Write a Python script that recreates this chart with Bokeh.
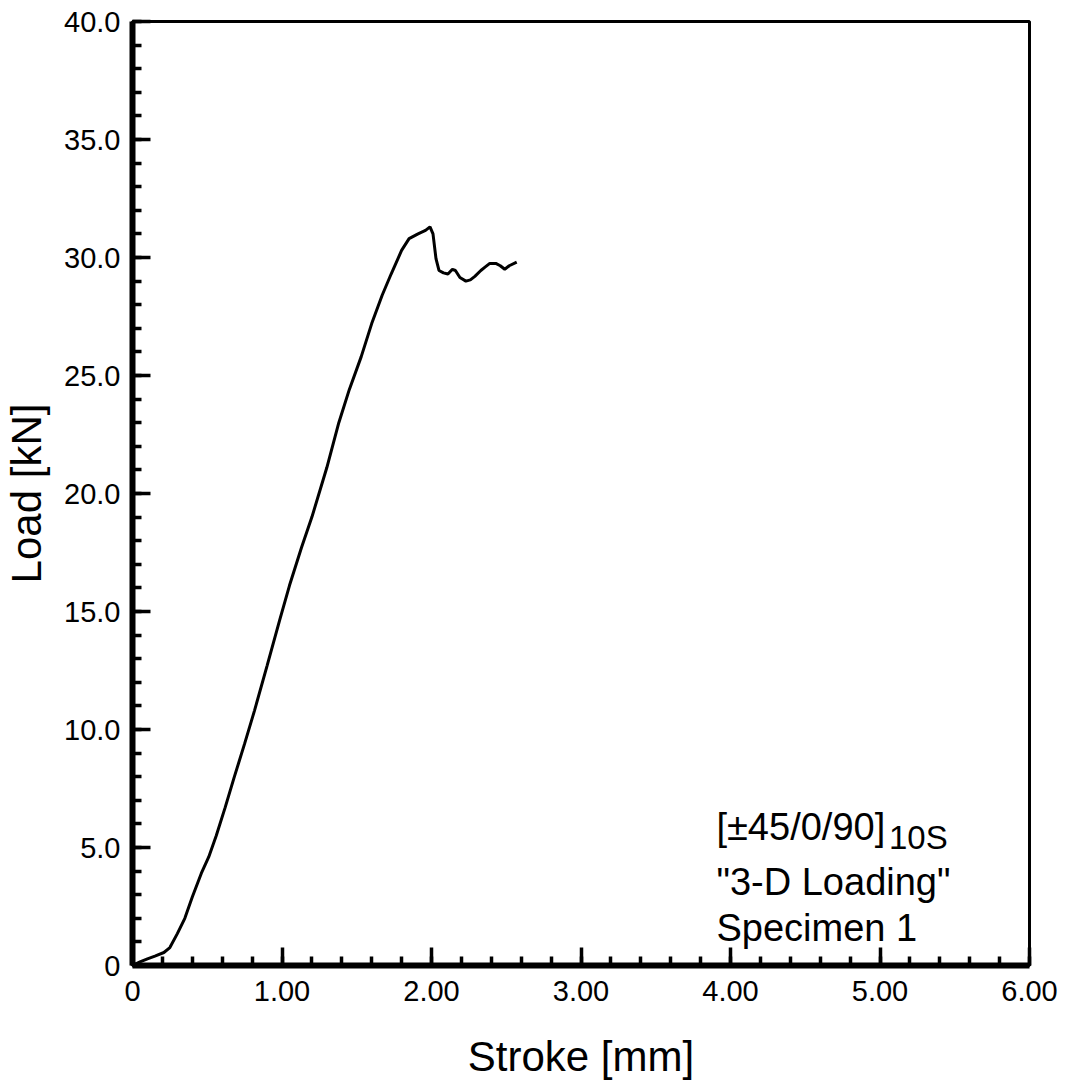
from bokeh.plotting import figure
from bokeh.models import FixedTicker, Range1d, Label
from bokeh.embed import file_html
from bokeh.resources import INLINE

# ---- data ----
stroke_mm = [0.00, 0.05, 0.10, 0.15, 0.21, 0.25, 0.30, 0.35, 0.40, 0.46,
             0.51, 0.56, 0.62, 0.68, 0.75, 0.816, 0.90, 0.983, 1.05, 1.13,
             1.20, 1.30, 1.38, 1.45, 1.53, 1.60, 1.67, 1.73, 1.80, 1.85,
             1.91, 1.96, 1.99, 2.01, 2.03, 2.05, 2.08, 2.11, 2.14, 2.16,
             2.19, 2.23, 2.26, 2.29, 2.33, 2.36, 2.39, 2.43, 2.46, 2.49,
             2.52, 2.57]
load_kN = [0.00, 0.15, 0.28, 0.40, 0.55, 0.76, 1.35, 2.0, 2.9, 3.9,
           4.6, 5.5, 6.7, 7.97, 9.4, 10.8, 12.7, 14.6, 16.1, 17.7,
           19.0, 21.1, 23.0, 24.4, 25.8, 27.2, 28.4, 29.3, 30.3, 30.8,
           31.0, 31.15, 31.3, 31.0, 29.95, 29.45, 29.35, 29.3, 29.5, 29.45,
           29.15, 29.0, 29.05, 29.2, 29.45, 29.6, 29.75, 29.75, 29.65, 29.5,
           29.65, 29.8]

x_ticks = [0, 1, 2, 3, 4, 5, 6]
x_tick_labels = ["0", "1.00", "2.00", "3.00", "4.00", "5.00", "6.00"]
x_minor = [0.2 * i for i in range(31)]
y_ticks = [0, 5, 10, 15, 20, 25, 30, 35, 40]
y_tick_labels = ["0", "5.0", "10.0", "15.0", "20.0", "25.0", "30.0", "35.0", "40.0"]
y_minor = list(range(41))

annot_main = "[±45/0/90]"
annot_sub = "10S"
annot_lines = ['"3-D Loading"', "Specimen 1"]

FONT = "Liberation Sans"

p = figure(frame_width=897, frame_height=944, output_backend="svg", toolbar_location=None,
           x_range=Range1d(0, 6), y_range=Range1d(0, 40),
           min_border_left=131, min_border_right=36,
           min_border_top=21, min_border_bottom=115)

p.background_fill_color = "white"
p.border_fill_color = "white"
p.outline_line_color = "black"
p.outline_line_width = 3
p.xgrid.visible = False
p.ygrid.visible = False

p.xaxis.ticker = FixedTicker(ticks=x_ticks, minor_ticks=x_minor)
p.yaxis.ticker = FixedTicker(ticks=y_ticks, minor_ticks=y_minor)
p.xaxis.major_label_overrides = {t: s for t, s in zip(x_ticks, x_tick_labels)}
p.yaxis.major_label_overrides = {t: s for t, s in zip(y_ticks, y_tick_labels)}

for ax in (p.xaxis[0], p.yaxis[0]):
    ax.axis_line_width = 6
    ax.axis_line_color = "black"
    ax.major_tick_in = 18
    ax.major_tick_out = 0
    ax.minor_tick_in = 9
    ax.minor_tick_out = 0
    ax.major_tick_line_width = 3.5
    ax.minor_tick_line_width = 3.5
    ax.major_tick_line_color = "black"
    ax.minor_tick_line_color = "black"
    ax.major_label_text_font = FONT
    ax.major_label_text_font_size = "29px"
    ax.major_label_text_color = "black"
    ax.axis_label_text_font = FONT
    ax.axis_label_text_font_style = "normal"
    ax.axis_label_text_font_size = "42px"
    ax.axis_label_text_color = "black"

p.xaxis.axis_label = "Stroke [mm]"
p.yaxis.axis_label = "Load [kN]"
p.xaxis.major_label_standoff = 15
p.yaxis.major_label_standoff = 12
p.xaxis.axis_label_standoff = 29
p.yaxis.axis_label_standoff = 11

p.line(stroke_mm, load_kN, line_color="black", line_width=3)

p.add_layout(Label(x=3.906, y=5.85, text=annot_main, text_font=FONT,
                   text_font_size="38px", text_color="black",
                   text_baseline="alphabetic"))
p.add_layout(Label(x=5.06, y=5.42, text=annot_sub, text_font=FONT,
                   text_font_size="33px", text_color="black",
                   text_baseline="alphabetic"))
p.add_layout(Label(x=3.906, y=3.52, text=annot_lines[0], text_font=FONT,
                   text_font_size="38px", text_color="black",
                   text_baseline="alphabetic"))
p.add_layout(Label(x=3.906, y=1.61, text=annot_lines[1], text_font=FONT,
                   text_font_size="38px", text_color="black",
                   text_baseline="alphabetic"))

open("out.html", "w").write(file_html(p, INLINE))
